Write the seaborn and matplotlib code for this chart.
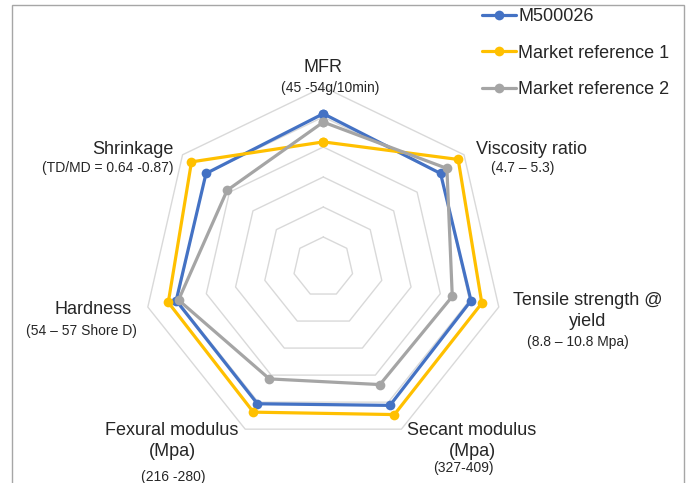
import numpy as np
import pandas as pd
import matplotlib
matplotlib.use("Agg")
import matplotlib.pyplot as plt
from matplotlib.patches import Rectangle
import seaborn as sns

# radar axes (clockwise from top)
categories = ["MFR", "Viscosity ratio", "Tensile strength", "Secant modulus",
              "Fexural modulus", "Hardness", "Shrinkage"]
m500026 = [5.11, 5.0, 5.05, 5.12, 5.06, 5.03, 5.0]
market_ref_1 = [4.17, 5.75, 5.42, 5.46, 5.37, 5.3, 5.62]
market_ref_2 = [4.83, 5.27, 4.41, 4.35, 4.14, 4.95, 4.1]
series_names = ["M500026", "Market reference 1", "Market reference 2"]
grid_levels = [1, 2, 3, 4, 5, 6]

# axis labels: (main text, sub text, pixel centre of main, pixel centre of sub)
axis_labels = [
    ("MFR", "(45 -54g/10min)", (323, 67), (330, 88)),
    ("Viscosity ratio", "(4.7 \u2013 5.3)", (531, 150), (523, 168)),
    ("Tensile strength @\nyield", "(8.8 \u2013 10.8 Mpa)", (588, 311), (578, 342)),
    ("Secant modulus\n(Mpa)", "(327-409)", (472, 441), (463, 468)),
    ("Fexural modulus\n(Mpa)", "(216 -280)", (172, 441), (173, 477)),
    ("Hardness", "(54 \u2013 57 Shore D)", (93, 310), (81, 331)),
    ("Shrinkage", "(TD/MD = 0.64 -0.87)", (133, 150), (108, 168)),
]

colors = ["#4472C4", "#FFC000", "#A5A5A5"]
W, H = 691, 483
cx, cy, unit = 323.3, 267.0, 30.0

sns.set_theme(style="white")
plt.rcParams["font.family"] = ["Liberation Sans", "DejaVu Sans"]

n = len(categories)
angles = np.pi / 2 - np.arange(n) * 2 * np.pi / n


def to_xy(values):
    vals = np.append(values, values[0])
    ang = np.append(angles, angles[0])
    return vals * np.cos(ang), vals * np.sin(ang)


rows = []
for name, vals in zip(series_names, [m500026, market_ref_1, market_ref_2]):
    x, y = to_xy(np.array(vals))
    for i, (xi, yi) in enumerate(zip(x, y)):
        rows.append({"series": name, "order": i, "x": xi, "y": yi})
df = pd.DataFrame(rows)

fig = plt.figure(figsize=(W / 100, H / 100), dpi=100)
ax = fig.add_axes([0, 0, 1, 1])
ax.set_xlim(-cx / unit, (W - cx) / unit)
ax.set_ylim((cy - H) / unit, cy / unit)
ax.axis("off")

# heptagon grid
for lvl in grid_levels:
    gx, gy = to_xy(np.full(n, lvl))
    ax.plot(gx, gy, color="#d9d9d9", lw=1.0, zorder=1)

sns.lineplot(data=df, x="x", y="y", hue="series", palette=colors,
             sort=False, estimator=None, units="series", marker="o",
             markersize=7, markeredgewidth=0, linewidth=2.3, ax=ax,
             legend=True, zorder=3)

leg = ax.legend(loc="upper left", bbox_to_anchor=(482 / W, 1 - 8 / H),
                bbox_transform=fig.transFigure, frameon=False, fontsize=13,
                handlelength=1.9, handletextpad=0.1, labelspacing=1.08,
                borderpad=0, borderaxespad=0)
for t in leg.get_texts():
    t.set_color("#262626")

for main, sub, (mx, my), (sx, sy) in axis_labels:
    fig.text(mx / W, 1 - my / H, main, ha="center", va="center",
             fontsize=13, color="#262626", linespacing=1.25)
    fig.text(sx / W, 1 - sy / H, sub, ha="center", va="center",
             fontsize=10, color="#262626")

fig.patches.append(Rectangle((12 / W, -0.1), (684 - 12) / W, 1.1 - 5 / H,
                             transform=fig.transFigure, fill=False,
                             edgecolor="#a6a6a6", lw=1.0))

fig.savefig("out.png", dpi=100)
